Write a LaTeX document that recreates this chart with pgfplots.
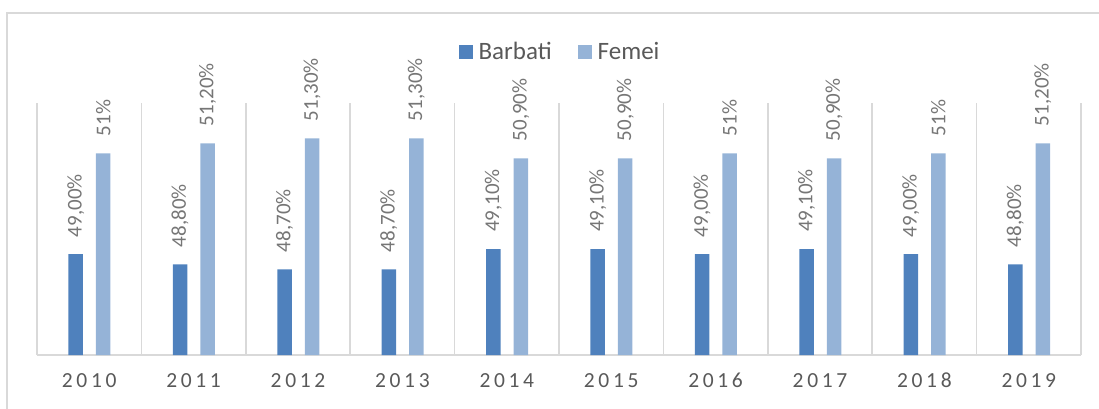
\documentclass[border=0pt]{standalone}
\usepackage{pgfplots}
\pgfplotsset{compat=1.18}
\usepackage{fontspec}
\setmainfont{Carlito}
\newfontfamily\spaced[LetterSpace=17]{Carlito}

\definecolor{barb}{RGB}{79,129,189}
\definecolor{fem}{RGB}{149,179,215}
\definecolor{gridc}{RGB}{217,217,217}
\definecolor{txt}{RGB}{89,89,89}
\definecolor{lbl}{RGB}{118,118,118}

\begin{document}
\begin{tikzpicture}
\path[use as bounding box] (0pt,0pt) rectangle (1099pt,408pt);
\draw[gridc, line width=1.2pt] (7pt,-20pt) -- (7pt,395pt) -- (1120pt,395pt);
\begin{axis}[
  at={(37pt,53pt)}, anchor=south west,
  scale only axis,
  width=1044pt, height=252pt,
  ybar,
  bar width=14.5pt,
  xmin=-0.5, xmax=9.5,
  ymin=47, ymax=52,
  axis x line*=bottom,
  axis y line=none,
  x axis line style={gridc, line width=1.5pt},
  xtick={0,...,9},
  xticklabels={2010,2011,2012,2013,2014,2015,2016,2017,2018,2019},
  xticklabel style={font=\spaced\fontsize{21.5}{25}\selectfont, text=txt,
    text height=15pt, text depth=0pt, anchor=north, yshift=-14pt},
  major tick length=0pt,
  extra x ticks={-0.5,0.5,1.5,2.5,3.5,4.5,5.5,6.5,7.5,8.5,9.5},
  extra x tick labels={},
  extra x tick style={grid=major, major grid style={gridc, line width=1.5pt}},
  point meta=explicit symbolic,
  nodes near coords,
  nodes near coords style={font=\fontsize{21}{25}\selectfont, text=lbl, rotate=90, anchor=west, inner xsep=17pt, inner ysep=0pt},
  legend columns=2,
  legend style={at={(0.5,1)}, anchor=center, yshift=51pt, draw=none, fill=none,
    font=\fontsize{25}{29}\selectfont, text=txt,
    nodes={inner sep=0pt, anchor=west},
    /tikz/every even column/.append style={column sep=26pt}},
  clip=false,
]
\addplot[fill=barb, draw=none, bar shift=-13.5pt,
  legend image code/.code={\fill[barb] (0pt,-7pt) rectangle (14pt,7pt); \path (20pt,0pt);}]
  coordinates {(0,49.0)[49,00\%] (1,48.8)[48,80\%] (2,48.7)[48,70\%] (3,48.7)[48,70\%] (4,49.1)[49,10\%]
               (5,49.1)[49,10\%] (6,49.0)[49,00\%] (7,49.1)[49,10\%] (8,49.0)[49,00\%] (9,48.8)[48,80\%]};
\addplot[fill=fem, draw=none, bar shift=14pt,
  legend image code/.code={\fill[fem] (0pt,-7pt) rectangle (14pt,7pt); \path (20pt,0pt);}]
  coordinates {(0,51.0)[51\%] (1,51.2)[51,20\%] (2,51.3)[51,30\%] (3,51.3)[51,30\%] (4,50.9)[50,90\%]
               (5,50.9)[50,90\%] (6,51.0)[51\%] (7,50.9)[50,90\%] (8,51.0)[51\%] (9,51.2)[51,20\%]};
\legend{Barbati,Femei}
\end{axis}
\end{tikzpicture}
\end{document}
